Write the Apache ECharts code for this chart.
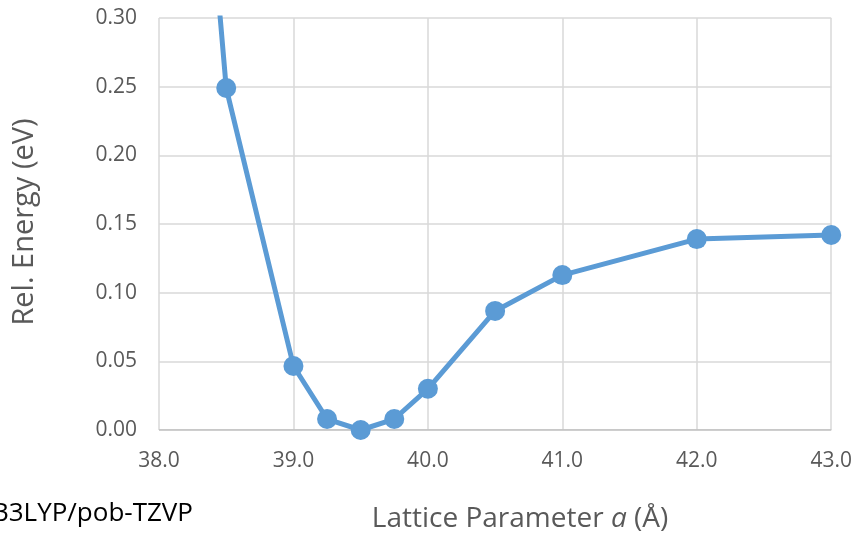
<!DOCTYPE html>
<html><head><meta charset="utf-8">
<script src="https://cdn.jsdelivr.net/npm/echarts@6/dist/echarts.min.js"></script>
<style>html,body{margin:0;padding:0;background:#fff}#c{width:855px;height:537px}</style>
</head><body><div id="c"></div>
<script>
const latticeA = [38.0, 38.5, 39.0, 39.25, 39.5, 39.75, 40.0, 40.5, 41.0, 42.0, 43.0];
const relEnergy = [0.82, 0.249, 0.0466, 0.008, 0.0, 0.008, 0.030, 0.0867, 0.1128, 0.139, 0.142];
const xTitle = 'Lattice Parameter ';
const yTitle = 'Rel. Energy (eV)';
const methodLabel = 'B3LYP/pob-TZVP';
const FONT = '"Open Sans", sans-serif';
const chart = echarts.init(document.getElementById('c'), null, {renderer: 'canvas'});
chart.setOption({
  animation: false,
  grid: {left: 159, right: 22, top: 18, bottom: 107, containLabel: false},
  xAxis: {
    type: 'value', min: 38, max: 43, interval: 1,
    axisLine: {show: false},
    axisTick: {show: false},
    splitLine: {show: true, lineStyle: {color: '#d9d9d9', width: 1.5}},
    axisLabel: {formatter: v => v.toFixed(1), color: '#595959', fontSize: 21, fontFamily: FONT, margin: 21}
  },
  yAxis: {
    type: 'value', min: 0, max: 0.30, interval: 0.05,
    axisLine: {show: false},
    axisTick: {show: false},
    splitLine: {show: true, lineStyle: {color: '#d9d9d9', width: 1.5}},
    axisLabel: {formatter: v => v.toFixed(2), color: '#595959', fontSize: 21, fontFamily: FONT, margin: 22}
  },
  series: [{
    type: 'line',
    data: latticeA.map((x, i) => [x, relEnergy[i]]),
    clip: true,
    symbol: 'circle', symbolSize: 20,
    lineStyle: {color: '#5b9bd5', width: 5},
    itemStyle: {color: '#5b9bd5'},
    z: 5
  }, {
    type: 'line', data: [[38, 0], [43, 0]], symbol: 'none', silent: true,
    lineStyle: {color: '#bfbfbf', width: 1.5}, z: 3
  }],
  graphic: [
    {type: 'text', x: 25, y: 222, rotation: Math.PI / 2, style: {
      text: yTitle, fill: '#595959', font: '29px ' + FONT, align: 'center', verticalAlign: 'middle'}},
    {type: 'text', x: 520, y: 519, style: {
      text: '{n|' + xTitle + '}{i|a}{n| (Å)}', align: 'center', verticalAlign: 'middle',
      rich: {n: {fill: '#595959', font: '28px ' + FONT}, i: {fill: '#595959', font: 'italic 28px ' + FONT}}}},
    {type: 'text', x: 193, y: 514, style: {
      text: methodLabel, fill: '#000', font: '26px ' + FONT, align: 'right', verticalAlign: 'middle'}}
  ]
});
</script></body></html>
